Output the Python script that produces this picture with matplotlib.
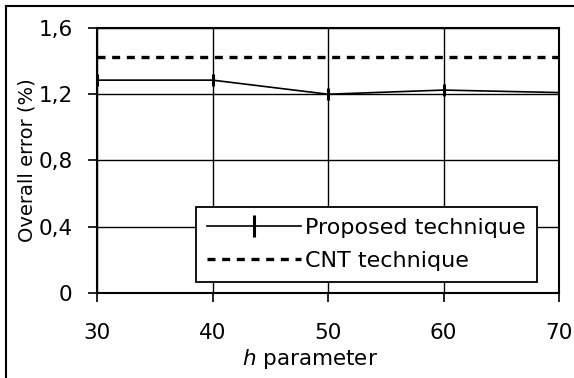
import matplotlib
matplotlib.use("Agg")
import matplotlib.pyplot as plt
from matplotlib.lines import Line2D
from matplotlib.ticker import FuncFormatter

h_values = [30, 40, 50, 60, 70]
proposed = [1.285, 1.285, 1.20, 1.225, 1.21]
proposed_err = [0.035, 0.035, 0.035, 0.035, 0.035]
cnt = [1.425, 1.425, 1.425, 1.425, 1.425]
y_ticks = [0, 0.4, 0.8, 1.2, 1.6]

plt.rcParams['font.family'] = ['DejaVu Sans']
plt.rcParams['font.size'] = 15.5

fig = plt.figure(figsize=(5.74, 3.78), dpi=100)
ax = fig.add_axes([0.169, 0.225, 0.805, 0.701])

# outer frame: only top and left edges are visible
fx, fy = 5.5 / 574, 1 - 5.5 / 378
fig.lines.append(Line2D([fx, 1.0], [fy, fy], transform=fig.transFigure, color='black', linewidth=1.5))
fig.lines.append(Line2D([fx, fx], [0, fy], transform=fig.transFigure, color='black', linewidth=1.5))

prop = ax.errorbar(h_values, proposed, yerr=proposed_err, color='black', linewidth=1.2,
                   elinewidth=2.2, capsize=0, label='Proposed technique')
cnt_line, = ax.plot(h_values, cnt, color='black', linestyle=(0, (2.4, 2)), linewidth=2.4,
                    label='CNT technique')

ax.set_xlim(30, 70)
ax.set_ylim(0, 1.6)
ax.set_xticks(h_values)
ax.set_yticks(y_ticks)
ax.yaxis.set_major_formatter(FuncFormatter(lambda v, p: '0' if v == 0 else f'{v:.1f}'.replace('.', ',')))
ax.grid(True, color='black', linewidth=1)
ax.set_axisbelow(True)
ax.tick_params(direction='out', length=6.5, width=1.2, colors='black', labelsize=15.5)
ax.tick_params(axis='y', pad=11)
ax.tick_params(axis='x', pad=15)
for s in ax.spines.values():
    s.set_linewidth(1.5)

ax.set_xlabel('$\\it{h}$ parameter')
ax.xaxis.set_label_coords(0.461, -0.249, transform=ax.transAxes)
ax.xaxis.label.set_va('center')
ax.set_ylabel('Overall error (%)', fontsize=14)
ax.yaxis.set_label_coords(-0.152, 0.5, transform=ax.transAxes)
ax.yaxis.label.set_va('center')

leg = ax.legend([prop, cnt_line], ['Proposed technique', 'CNT technique'],
                loc='lower right', bbox_to_anchor=(0.952, 0.04), frameon=True,
                fancybox=False, edgecolor='black', framealpha=1, handlelength=4.2,
                borderpad=0.5, labelspacing=0.6, handletextpad=0.2, fontsize=16,
                borderaxespad=0)
leg.get_frame().set_linewidth(1.3)

fig.savefig('out.png', dpi=100)
